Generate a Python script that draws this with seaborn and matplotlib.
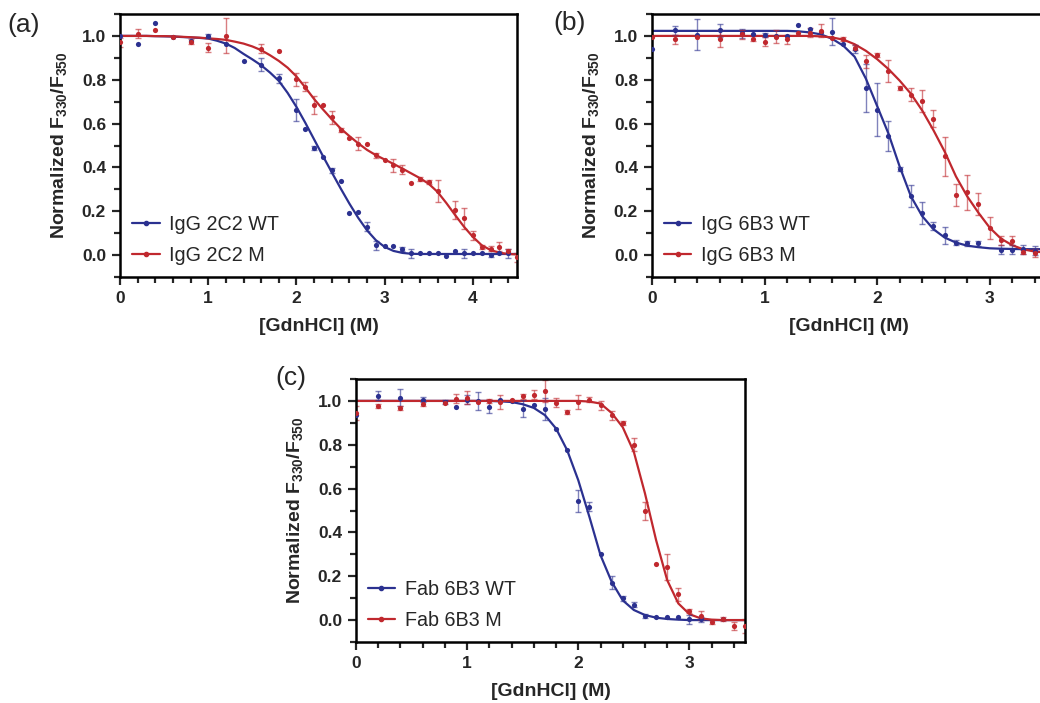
import numpy as np
import pandas as pd
import matplotlib
matplotlib.use("Agg")
import matplotlib.pyplot as plt
import seaborn as sns
from matplotlib.lines import Line2D
from matplotlib.ticker import MultipleLocator

# ---------------- data ----------------
# Panel (a) IgG 2C2
a_wt_x = [0, 0.2, 0.4, 0.6, 0.8, 1.0, 1.2, 1.4, 1.6, 1.8, 2.0, 2.1, 2.2, 2.3, 2.4, 2.5, 2.6, 2.7, 2.8, 2.9,
          3.0, 3.1, 3.2, 3.3, 3.4, 3.5, 3.6, 3.7, 3.8, 3.9, 4.0, 4.1, 4.2, 4.3, 4.4]
a_wt_y = [1.00, 0.965, 1.058, 0.995, 0.975, 1.00, 0.965, 0.886, 0.868, 0.806, 0.663, 0.576, 0.49, 0.447, 0.386,
          0.34, 0.19, 0.197, 0.129, 0.045, 0.042, 0.042, 0.027, 0.008, 0.01, 0.008, 0.008, -0.003, 0.018, 0.008,
          0.01, 0.008, 0.0, 0.01, 0.008]
a_wt_e = [0, 0, 0, 0, 0, 0.01, 0, 0, 0.03, 0.02, 0.05, 0, 0.01, 0, 0.01, 0, 0, 0, 0.02, 0.02,
          0, 0, 0.01, 0.02, 0, 0, 0, 0, 0, 0.02, 0, 0, 0.01, 0, 0.02]
a_m_x = [0, 0.2, 0.4, 0.6, 0.8, 1.0, 1.2, 1.6, 1.8, 2.0, 2.1, 2.2, 2.3, 2.4, 2.5, 2.6, 2.7, 2.8, 2.9, 3.0,
         3.1, 3.2, 3.3, 3.4, 3.5, 3.6, 3.8, 3.9, 4.0, 4.1, 4.2, 4.3, 4.4, 4.5]
a_m_y = [0.97, 1.01, 1.027, 0.995, 0.974, 0.947, 1.0, 0.942, 0.929, 0.803, 0.768, 0.686, 0.686, 0.629, 0.571,
         0.535, 0.508, 0.508, 0.455, 0.435, 0.41, 0.39, 0.33, 0.348, 0.333, 0.292, 0.205, 0.167, 0.09, 0.038,
         0.03, 0.038, 0.02, -0.01]
a_m_e = [0.02, 0.02, 0, 0, 0.01, 0.02, 0.08, 0.02, 0, 0.03, 0.02, 0.04, 0, 0.03, 0.01, 0, 0.03, 0, 0.01, 0,
         0.03, 0.02, 0, 0.01, 0.01, 0.05, 0.04, 0.05, 0.02, 0.01, 0.01, 0.02, 0.01, 0.02]
a_fit_x = np.round(np.arange(0, 4.51, 0.1), 2)
a_wt_fit = [1.000, 1.000, 1.000, 1.000, 0.999, 0.998, 0.997, 0.995, 0.993, 0.991, 0.988, 0.978, 0.965, 0.945,
            0.918, 0.893, 0.866, 0.833, 0.795, 0.740, 0.676, 0.604, 0.528, 0.452, 0.378, 0.305, 0.235, 0.170,
            0.113, 0.068, 0.037, 0.019, 0.010, 0.006, 0.005, 0.005, 0.005, 0.005, 0.005, 0.005, 0.005, 0.005,
            0.005, 0.005, 0.005, 0.005]
a_m_fit = [1.000, 1.000, 1.000, 1.000, 0.999, 0.999, 0.998, 0.996, 0.994, 0.992, 0.989, 0.986, 0.982, 0.974,
           0.965, 0.952, 0.935, 0.912, 0.886, 0.855, 0.815, 0.765, 0.712, 0.665, 0.620, 0.578, 0.543, 0.510,
           0.480, 0.456, 0.436, 0.416, 0.395, 0.373, 0.351, 0.325, 0.288, 0.237, 0.182, 0.129, 0.083, 0.045,
           0.023, 0.011, 0.005, 0.003]

# Panel (b) IgG 6B3
b_wt_x = [0, 0.2, 0.4, 0.6, 0.8, 0.9, 1.0, 1.1, 1.2, 1.3, 1.4, 1.5, 1.6, 1.7, 1.8, 1.9, 2.0, 2.1, 2.2, 2.3,
          2.4, 2.5, 2.6, 2.7, 2.8, 2.9, 3.1, 3.2, 3.3, 3.4]
b_wt_y = [0.94, 1.026, 1.005, 1.026, 1.012, 1.01, 1.003, 1.0, 1.0, 1.048, 1.03, 1.02, 1.02, 0.962, 0.94, 0.763,
          0.664, 0.543, 0.392, 0.268, 0.193, 0.133, 0.09, 0.057, 0.053, 0.053, 0.024, 0.024, 0.027, 0.02]
b_wt_e = [0, 0.02, 0.07, 0.03, 0.02, 0, 0.01, 0, 0, 0, 0, 0, 0.06, 0, 0.02, 0.11, 0.12, 0.07, 0.01, 0.05,
          0.05, 0.02, 0.04, 0.01, 0.01, 0.01, 0.02, 0.02, 0.02, 0.02]
b_m_x = [0, 0.2, 0.4, 0.6, 0.8, 0.9, 1.0, 1.1, 1.2, 1.3, 1.4, 1.5, 1.6, 1.7, 1.8, 1.9, 2.0, 2.1, 2.2, 2.3,
         2.4, 2.5, 2.6, 2.7, 2.8, 2.9, 3.0, 3.1, 3.2, 3.3, 3.4]
b_m_y = [0.995, 0.985, 0.995, 0.988, 1.007, 0.988, 0.973, 0.997, 0.985, 1.012, 1.015, 1.023, 0.99, 0.985,
         0.947, 0.884, 0.914, 0.839, 0.763, 0.732, 0.703, 0.623, 0.45, 0.276, 0.287, 0.231, 0.125, 0.068,
         0.065, 0.015, 0.01]
b_m_e = [0, 0.02, 0, 0.04, 0.02, 0.01, 0.02, 0.03, 0.02, 0, 0.02, 0.03, 0, 0.01, 0.01, 0.03, 0.01, 0.05,
         0.01, 0.03, 0.05, 0.04, 0.09, 0.05, 0.08, 0.05, 0.05, 0.02, 0.02, 0.01, 0.02]
b_fit_x = np.round(np.arange(0, 3.51, 0.1), 2)
b_wt_fit = [1.023, 1.023, 1.023, 1.023, 1.023, 1.023, 1.023, 1.023, 1.023, 1.023, 1.023, 1.023, 1.023, 1.021,
            1.016, 1.007, 0.987, 0.955, 0.905, 0.805, 0.680, 0.555, 0.404, 0.268, 0.178, 0.118, 0.080, 0.057,
            0.043, 0.036, 0.031, 0.029, 0.028, 0.027, 0.027, 0.027]
b_m_fit = [1.000, 1.000, 1.000, 1.000, 1.000, 1.000, 1.000, 1.000, 1.000, 1.000, 1.000, 1.000, 1.000, 1.000,
           1.000, 0.998, 0.993, 0.983, 0.962, 0.932, 0.894, 0.849, 0.796, 0.736, 0.660, 0.570, 0.472, 0.359,
           0.268, 0.193, 0.125, 0.075, 0.045, 0.026, 0.016, 0.012]

# Panel (c) Fab 6B3
c_wt_x = [0, 0.2, 0.4, 0.6, 0.8, 0.9, 1.0, 1.1, 1.2, 1.3, 1.4, 1.5, 1.6, 1.7, 1.8, 1.9, 2.0, 2.1, 2.2, 2.3,
          2.4, 2.5, 2.6, 2.7, 2.8, 2.9, 3.0, 3.1, 3.3]
c_wt_y = [0.935, 1.023, 1.015, 1.006, 0.995, 0.973, 1.006, 1.0, 0.973, 1.003, 1.0, 0.965, 0.98, 0.965, 0.87,
          0.775, 0.543, 0.517, 0.3, 0.17, 0.099, 0.071, 0.02, 0.012, 0.015, 0.015, 0.003, 0.003, 0.003]
c_wt_e = [0, 0.02, 0.04, 0.01, 0.01, 0, 0.02, 0.04, 0.03, 0, 0, 0.04, 0, 0.05, 0, 0, 0.05, 0.02, 0, 0.03,
          0.01, 0.01, 0.01, 0, 0, 0, 0.02, 0.01, 0]
c_m_x = [0, 0.2, 0.4, 0.6, 0.8, 0.9, 1.0, 1.1, 1.2, 1.3, 1.4, 1.5, 1.6, 1.7, 1.8, 1.9, 2.0, 2.1, 2.2, 2.3,
         2.4, 2.5, 2.6, 2.7, 2.8, 2.9, 3.0, 3.1, 3.2, 3.3, 3.4, 3.5]
c_m_y = [0.945, 0.977, 0.968, 0.988, 0.992, 1.01, 1.015, 0.995, 1.0, 0.995, 1.006, 1.021, 1.029, 1.046, 0.992,
         0.95, 0.995, 1.006, 0.98, 0.935, 0.9, 0.8, 0.497, 0.255, 0.243, 0.117, 0.041, 0.02, -0.01, 0.005,
         -0.027, -0.027]
c_m_e = [0.03, 0.01, 0.01, 0.01, 0, 0.02, 0.03, 0, 0.01, 0.03, 0, 0.01, 0.02, 0.05, 0.02, 0.01, 0.03, 0.01,
         0.02, 0.02, 0.01, 0.03, 0.04, 0, 0.06, 0.03, 0.01, 0.02, 0.01, 0.01, 0.02, 0.03]
c_fit_x = np.round(np.arange(0, 3.51, 0.1), 2)
c_wt_fit = [1.000, 1.000, 1.000, 1.000, 1.000, 1.000, 1.000, 1.000, 1.000, 1.000, 1.000, 1.000, 1.000, 0.998,
            0.995, 0.985, 0.968, 0.935, 0.874, 0.775, 0.638, 0.471, 0.296, 0.175, 0.090, 0.046, 0.023, 0.011,
            0.005, 0.002, 0.000, 0.000, 0.000, 0.000, 0.000, 0.000]
c_m_fit = [1.000, 1.000, 1.000, 1.000, 1.000, 1.000, 1.000, 1.000, 1.000, 1.000, 1.000, 1.000, 1.000, 1.000,
           1.000, 1.000, 1.000, 1.000, 1.000, 1.000, 1.000, 0.997, 0.988, 0.945, 0.880, 0.767, 0.578, 0.365,
           0.182, 0.076, 0.027, 0.008, 0.002, 0.000, 0.000, 0.000]

labels_a = ["IgG 2C2 WT", "IgG 2C2 M"]
labels_b = ["IgG 6B3 WT", "IgG 6B3 M"]
labels_c = ["Fab 6B3 WT", "Fab 6B3 M"]
x_label = "[GdnHCl] (M)"
y_label = "Normalized F$_{330}$/F$_{350}$"

# ---------------- style ----------------
sns.set_style("ticks")
plt.rcParams["font.family"] = ["Liberation Sans", "DejaVu Sans"]
plt.rcParams["mathtext.fontset"] = "custom"
plt.rcParams["mathtext.rm"] = "Liberation Sans:bold"
plt.rcParams["mathtext.bf"] = "Liberation Sans:bold"
plt.rcParams["mathtext.it"] = "Liberation Sans:italic:bold"

BLUE = "#2b3190"
RED = "#c0282e"

fig = plt.figure(figsize=(10.4, 7.03), dpi=100)
W, H = 1040.0, 703.0


def add_axes(left, top, width, height):
    return fig.add_axes([left / W, 1 - (top + height) / H, width / W, height / H])


def panel(ax, fx, wt, m, xmax, labels):
    (wx, wy, we, wfit) = wt
    (mx, my, me, mfit) = m
    df = pd.DataFrame({
        "x": list(fx) * 2,
        "y": list(wfit) + list(mfit),
        "s": [labels[0]] * len(fx) + [labels[1]] * len(fx),
    })
    sns.lineplot(data=df, x="x", y="y", hue="s", palette=[BLUE, RED], linewidth=1.6,
                 ax=ax, legend=False, zorder=2)
    for x, y, e, c in [(wx, wy, we, BLUE), (mx, my, me, RED)]:
        x = np.asarray(x, float); y = np.asarray(y, float); e = np.asarray(e, float)
        msk = e > 0
        ax.errorbar(x[msk], y[msk], yerr=e[msk], fmt="none", ecolor=c, alpha=0.6,
                    elinewidth=1.0, capsize=2.2, capthick=1.0, zorder=2.5)
        sns.scatterplot(x=x, y=y, color=c, s=14, marker="o", linewidth=0, ax=ax, zorder=3)
    ax.set_xlim(0, xmax)
    ax.set_ylim(-0.1, 1.1)
    ax.xaxis.set_major_locator(MultipleLocator(1))
    ax.xaxis.set_minor_locator(MultipleLocator(0.2))
    ax.yaxis.set_major_locator(MultipleLocator(0.2))
    ax.yaxis.set_minor_locator(MultipleLocator(0.1))
    ax.yaxis.set_major_formatter(matplotlib.ticker.FormatStrFormatter("%.1f"))
    ax.tick_params(which="major", direction="out", length=6, width=1.6, labelsize=12.5, pad=4)
    ax.tick_params(which="minor", direction="out", length=4, width=1.6)
    for lab in ax.get_xticklabels() + ax.get_yticklabels():
        lab.set_fontweight("bold")
    for sp in ax.spines.values():
        sp.set_linewidth(1.8)
        sp.set_color("black")
        sp.set_visible(True)
    ax.set_xlabel(x_label, fontsize=14, fontweight="bold", labelpad=9)
    ax.set_ylabel(y_label, fontsize=14, fontweight="bold", labelpad=9)
    handles = [Line2D([0], [0], color=BLUE, lw=1.6, marker="o", ms=3),
               Line2D([0], [0], color=RED, lw=1.6, marker="o", ms=3)]
    ax.legend(handles, labels, loc="lower left", bbox_to_anchor=(0.03, 0.045), frameon=False,
              fontsize=14.2, handlelength=1.4, handletextpad=0.5, labelspacing=0.62,
              borderpad=0, borderaxespad=0)


ax_a = add_axes(120, 14, 397, 263)
panel(ax_a, a_fit_x, (a_wt_x, a_wt_y, a_wt_e, a_wt_fit), (a_m_x, a_m_y, a_m_e, a_m_fit), 4.5, labels_a)

ax_b = add_axes(652, 14, 394, 263)
panel(ax_b, b_fit_x, (b_wt_x, b_wt_y, b_wt_e, b_wt_fit), (b_m_x, b_m_y, b_m_e, b_m_fit), 3.5, labels_b)

ax_c = add_axes(356, 379, 389, 263)
panel(ax_c, c_fit_x, (c_wt_x, c_wt_y, c_wt_e, c_wt_fit), (c_m_x, c_m_y, c_m_e, c_m_fit), 3.5, labels_c)

fig.text(7 / W, 1 - 25 / H, "(a)", fontsize=19, va="center", ha="left")
fig.text(553 / W, 1 - 23 / H, "(b)", fontsize=19, va="center", ha="left")
fig.text(275 / W, 1 - 378 / H, "(c)", fontsize=19, va="center", ha="left")

fig.savefig("out.png", dpi=100)
